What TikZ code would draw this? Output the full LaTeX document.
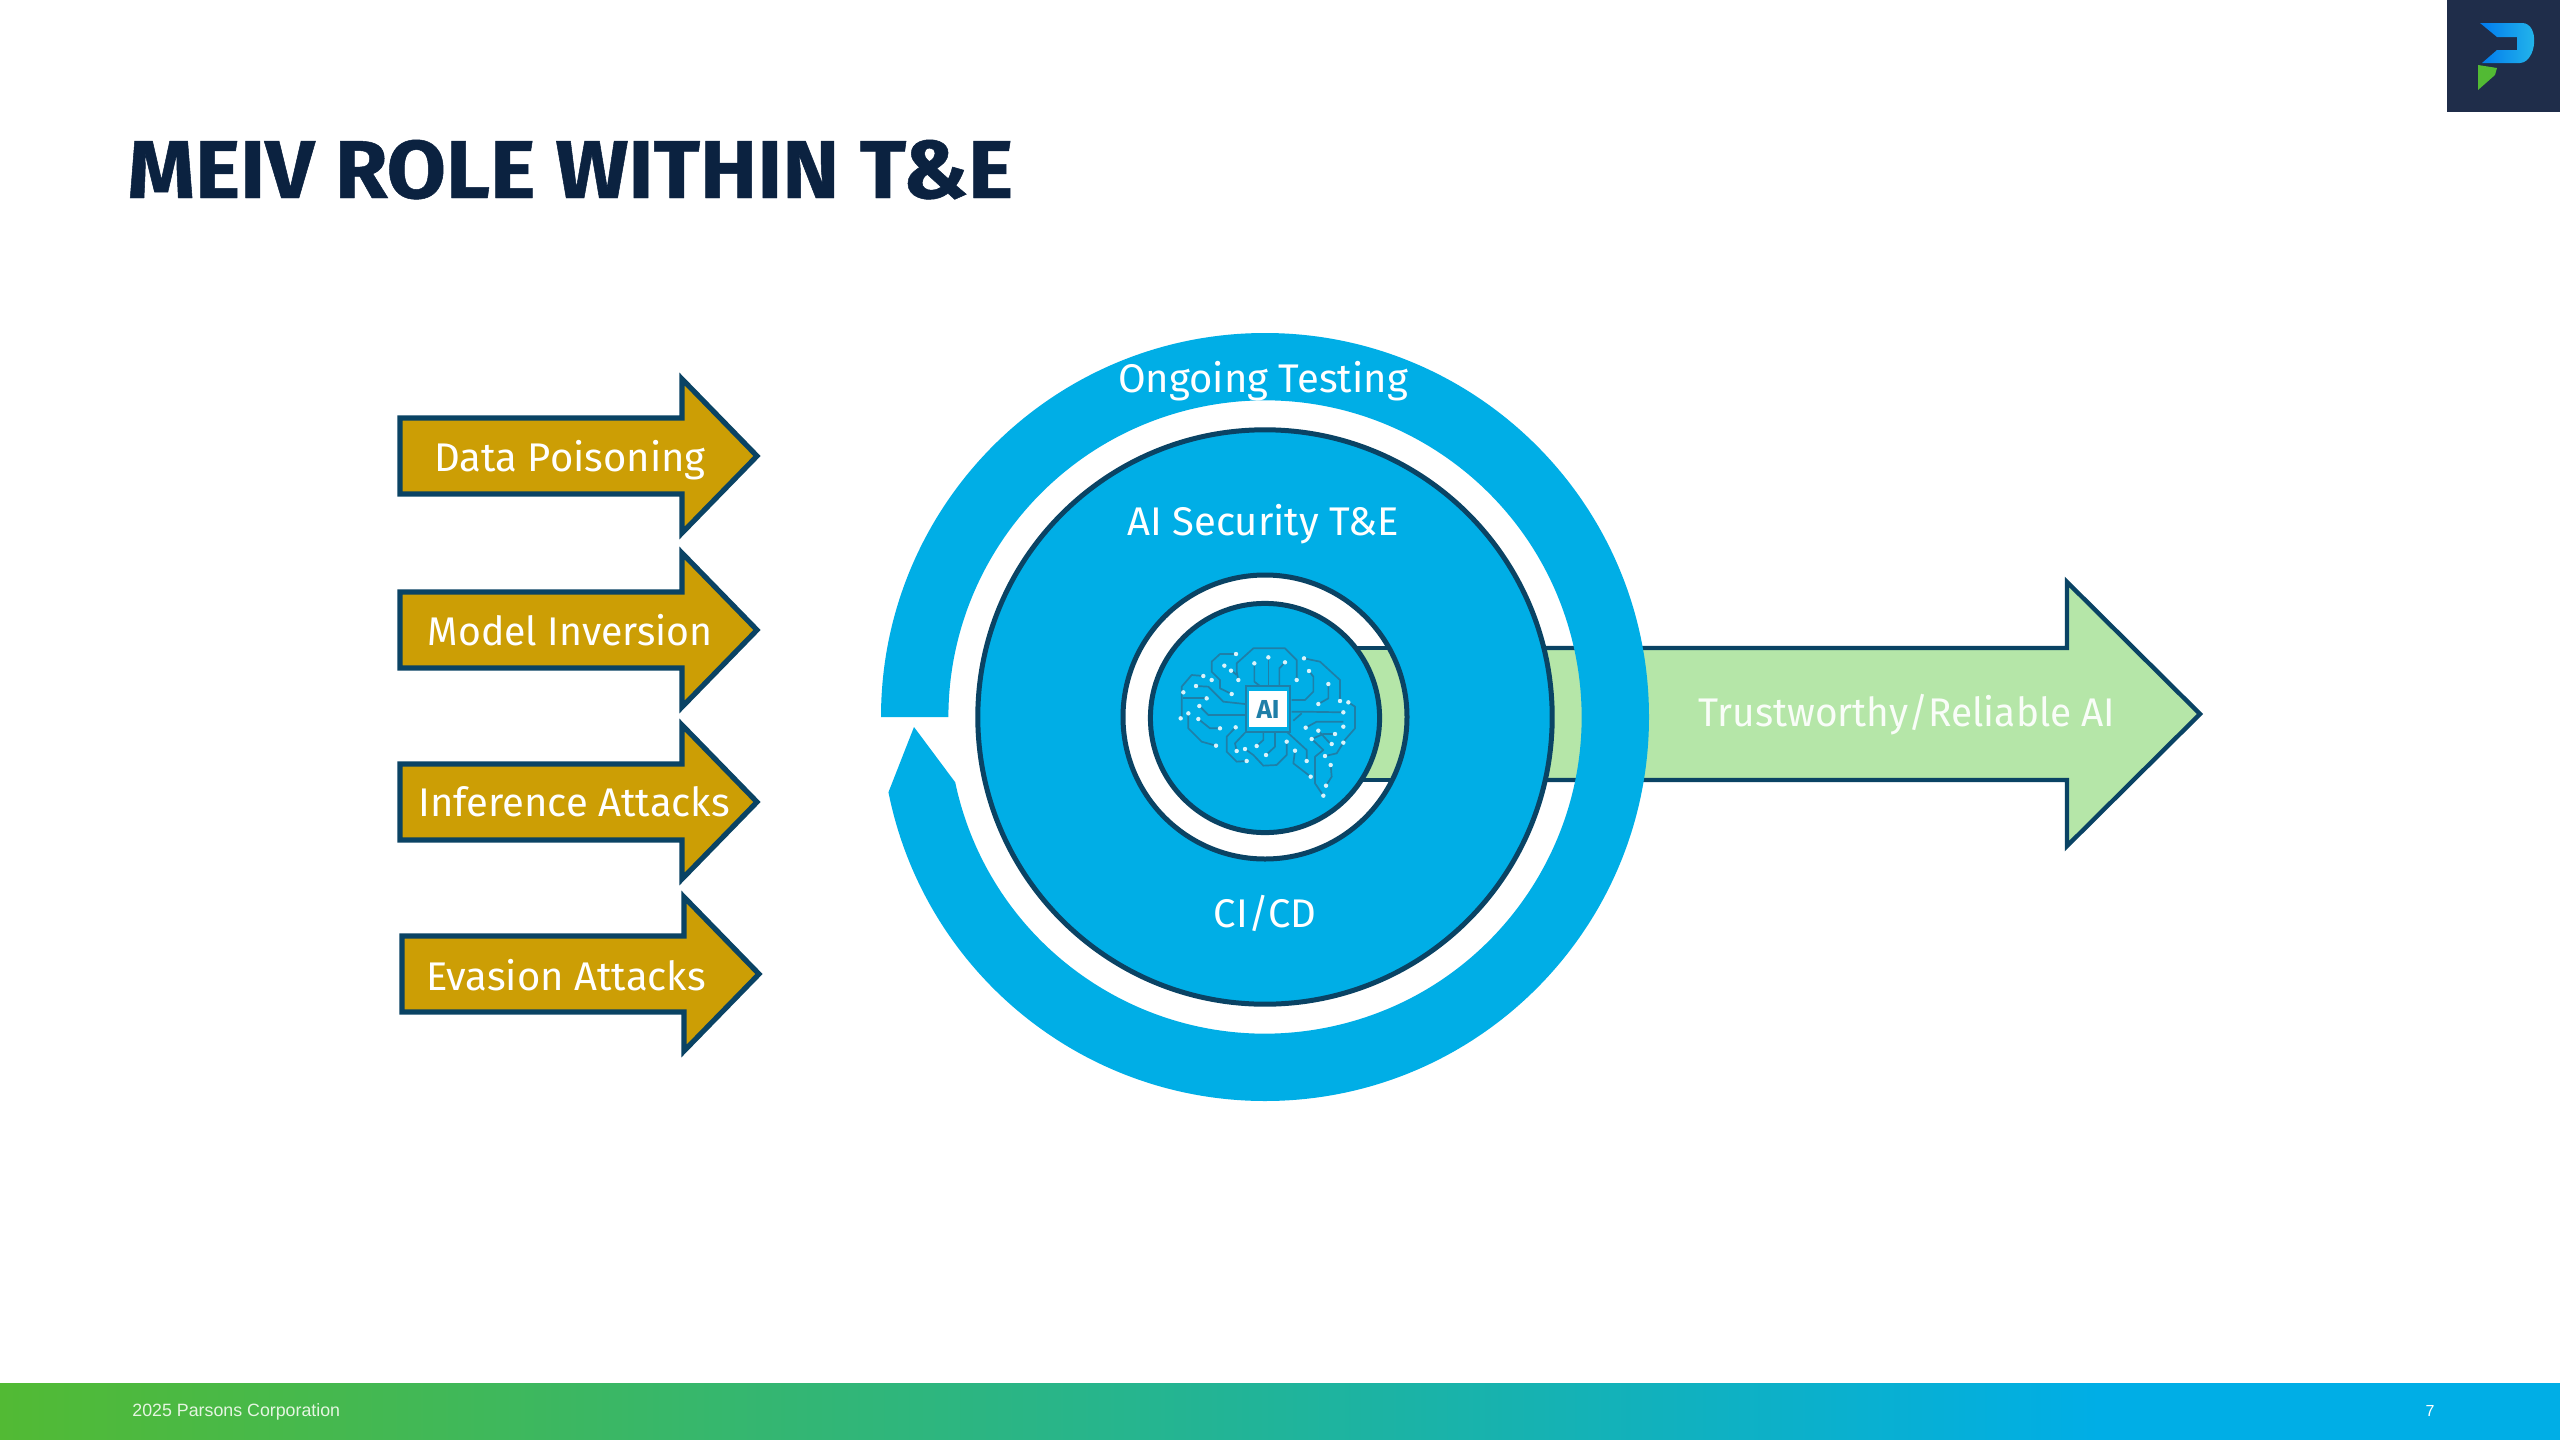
\documentclass[tikz,border=0pt]{standalone}
\usepackage{fontspec}
\setmainfont{Fira Sans}
\newfontfamily\footfont{Liberation Sans}
\newfontfamily\titlefont[BoldFeatures={FakeBold=0.6}]{Fira Sans}
\usetikzlibrary{calc}
\definecolor{ringblue}{HTML}{00AEE6}
\definecolor{edgeblue}{HTML}{0A4364}
\definecolor{goldfill}{HTML}{CC9E05}
\definecolor{leaf}{HTML}{B5E6A8}
\definecolor{navy}{HTML}{0B2240}
\definecolor{logobox}{HTML}{1F2D4A}
\definecolor{trace}{HTML}{1F7FA8}
\definecolor{HTMLgreen}{HTML}{52BA34}
\definecolor{HTMLteal}{HTML}{20B49A}
\definecolor{HTMLcyan}{HTML}{00AEE6}
\pgfdeclarehorizontalshading{footshade}{100bp}{
 color(0bp)=(HTMLgreen);
 color(25bp)=(HTMLgreen);
 color(50bp)=(HTMLteal);
 color(66bp)=(HTMLcyan);
 color(100bp)=(HTMLcyan)}
\tikzset{
 px/.style={x=.5pt,y=-.5pt},
 lab/.style={text=white,font=\fontsize{20}{24}\selectfont,inner sep=0pt,anchor=center},
 goldarrow/.style={fill=goldfill,draw=edgeblue,line width=2.6pt,miter limit=10,line join=miter},
 bigarrow/.style={fill=leaf,draw=edgeblue,line width=2.2pt,miter limit=10},
 tr/.style={draw=trace,line width=.85pt,line join=round},
 dot/.style={fill=white!85!ringblue,draw=none},
}
\newcommand{\shaftpath}{(1300,648) -- (2067,648) -- (2067,582) -- (2200,714) -- (2067,846) -- (2067,780) -- (1300,780) -- cycle}
\begin{document}
\begin{tikzpicture}[px]
\useasboundingbox (0,0) rectangle (2560,1440);
\fill[white] (0,0) rectangle (2560,1440);

% title
\node[anchor=base west,inner sep=0pt,text=navy,font=\titlefont\fontsize{41}{48}\selectfont\bfseries] (title) at (127,198) {\scalebox{1.048}[1]{MEIV ROLE WITHIN T\&E}};

% logo
\fill[logobox] (2447,0) rectangle (2560,112);
\shade[left color=ringblue!70!blue,right color=ringblue!85!white] (2480,23) -- (2522,23) .. controls (2540,23) and (2537,62) .. (2520,63) -- (2482,63) -- (2497,50) -- (2517,50) -- (2517,37) -- (2497,37) -- cycle;
\fill[HTMLgreen] (2478,65) -- (2497,68) -- (2495,75) -- (2478,90) -- cycle;

% footer
\shade[shading=footshade] (0,1383) rectangle (2560,1440);
\node[anchor=west,inner sep=0pt,text=white!85!HTMLgreen,font=\footfont\fontsize{8.9}{11}\selectfont] (foot) at (132,1412) {2025 Parsons Corporation};
\node[inner sep=0pt,text=white,font=\footfont\fontsize{8}{10}\selectfont] (pageno) at (2430,1411) {7};

% gold arrows
\foreach \dx/\dy in {0/0,0/174,0/346,2/518}{
 \begin{scope}[xshift=\dx*.5pt,yshift=-\dy*.5pt]
 \draw[goldarrow] (400,418) -- (682,418) -- (682,379) -- (757,456) -- (682,533) -- (682,494) -- (400,494) -- cycle;
 \end{scope}
}
\node[lab] (dp) at (570,460) {Data Poisoning};
\node[lab] (mi) at (570,630) {\scalebox{.98}[1]{Model Inversion}};
\node[lab] (ia) at (574,802) {Inference Attacks};
\node[lab] (ea) at (566,975) {Evasion Attacks};

% big arrow
\draw[bigarrow] \shaftpath;

% outer ring
\coordinate (c) at (1265,717);
\fill[ringblue] ($(c)+(180:192pt)$) arc[start angle=180,end angle=-168.7,radius=192pt]
  -- (914,727) -- ($(c)+(-168.1:158.3pt)$)
  arc[start angle=-168.1,end angle=180,radius=158.3pt] -- cycle;

% middle circle
\draw[fill=ringblue,draw=edgeblue,line width=2.5pt] (c) circle[radius=143.6pt];

% white disc with green band
\fill[white] (c) circle[radius=71pt];
\begin{scope}
 \clip (c) circle[radius=71pt];
 \draw[fill=leaf,draw=edgeblue,line width=2.2pt] (1300,648) rectangle (1500,780);
\end{scope}
\draw[draw=edgeblue,line width=2.5pt] (c) circle[radius=71pt];
\draw[fill=ringblue,draw=edgeblue,line width=2.5pt] (1265,718) circle[radius=57.3pt];

% brain
\begin{scope}[shift={(560pt,-300pt)},x=.16667pt,y=-.16667pt]
 \foreach \p in {
  {(348,162)--(300,162)--(275,185)--(275,215)--(300,240)--(300,265)--(335,282)},
  {(355,240)--(350,215)--(350,190)--(400,145)--(495,145)--(530,180)--(530,240)},
  {(335,212)--(350,225)},
  {(445,172)--(445,258)},
  {(403,190)--(403,245)--(420,258)},
  {(495,187)--(478,205)--(478,258)},
  {(552,175)--(600,185)--(660,240)--(660,300)},
  {(567,213)--(580,230)--(580,275)--(555,300)--(515,300)},
  {(625,252)--(625,295)--(595,312)},
  {(250,228)--(215,225)--(185,260)--(185,350)},
  {(228,258)--(265,260)--(310,305)--(375,312)},
  {(190,295)--(260,295)},
  {(238,318)--(265,345)--(375,345)},
  {(205,340)--(205,385)--(245,425)--(288,437)},
  {(235,357)--(270,385)--(300,385)},
  {(347,382)--(320,410)--(320,455)--(350,485)--(380,483)},
  {(375,398)--(345,430)--(350,453)},
  {(375,447)--(400,465)--(430,497)--(470,495)--(500,465)--(500,425)},
  {(410,438)--(430,420)--(430,398)},
  {(438,465)--(465,440)--(465,398)},
  {(515,335)--(550,335)--(670,337)},
  {(520,362)--(545,340)},
  {(685,307)--(705,320)--(705,385)--(670,425)},
  {(557,383)--(590,365)--(670,365)},
  {(595,392)--(630,430)},
  {(645,402)--(610,402)--(575,417)},
  {(500,395)--(560,450)--(560,483)},
  {(525,452)--(520,490)--(572,530)},
  {(575,417)--(610,450)--(585,470)--(585,550)--(610,587)},
  {(632,495)--(635,530)--(618,557)},
  {(670,428)--(650,460)--(615,468)}
 }{ \draw[tr] \p; }
 \foreach \x/\y in {348/162,335/282,313/197,333/212,355/240,530/240,445/172,403/190,495/187,552/175,567/213,625/252,595/312,660/303,685/307,250/228,228/258,275/240,190/277,260/295,238/318,205/340,182/355,235/357,300/385,288/437,347/382,380/483,350/453,375/447,410/438,438/465,500/425,670/337,670/380,670/428,645/402,595/392,557/383,575/417,635/432,525/452,560/483,572/530,615/468,632/495,618/557,610/587}{
  \fill[dot] (\x,\y) circle[radius=1.1pt];
 }
 \fill[ringblue] (378,258) rectangle (510,395);
 \draw[draw=trace,line width=1pt,fill=none] (378,258) rectangle (510,395);
 \fill[white] (388,272) rectangle (500,382);
 \node[inner sep=0pt,text=trace,font=\fontsize{13}{15}\selectfont\bfseries] (ailabel) at (444,328) {AI};
\end{scope}

% labels
\node[lab] (og) at (1263,381) {Ongoing Testing};
\node[lab] (sec) at (1263,524) {AI Security T\&E};
\node[lab] (ci) at (1265,913) {CI/CD};
\node[lab,text=white!92!leaf] (tr1) at (1907,715) {\scalebox{.97}[1]{Trustworthy/Reliable AI}};
\end{tikzpicture}
\end{document}
